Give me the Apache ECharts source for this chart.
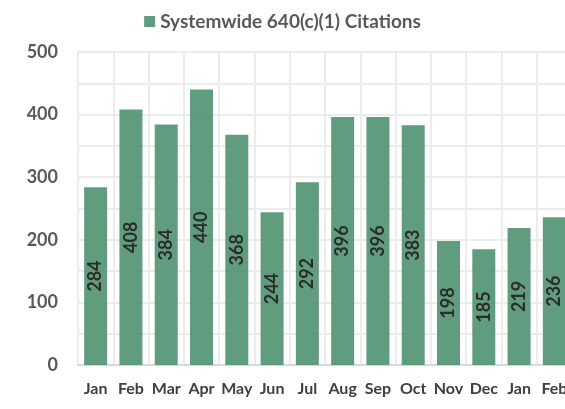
<!DOCTYPE html>
<html>
<head>
<meta charset="utf-8">
<script src="https://cdn.jsdelivr.net/npm/echarts@6/dist/echarts.min.js"></script>
<style>
  html, body { margin: 0; padding: 0; background: #fff; }
  #chart { width: 565px; height: 409px; }
</style>
</head>
<body>
<div id="chart"></div>
<script>
// 月份和数据
const months = ['Jan', 'Feb', 'Mar', 'Apr', 'May', 'Jun', 'Jul', 'Aug', 'Sep', 'Oct', 'Nov', 'Dec', 'Jan', 'Feb']
const citations = [284, 408, 384, 440, 368, 244, 292, 396, 396, 383, 198, 185, 219, 236]
const seriesName = 'Systemwide 640(c)(1) Citations'

const chart = echarts.init(document.getElementById('chart'))

const font = 'Lato, "Open Sans", sans-serif'

chart.setOption({
  animation: false,
  legend: {
    top: 7,
    left: 'center',
    icon: 'rect',
    itemWidth: 11,
    itemHeight: 11,
    itemGap: 5,
    textStyle: { fontFamily: font, fontSize: 19, fontWeight: 'bold', color: '#595959' },
    data: [seriesName]
  },
  // 右侧被裁切，宽度超出画布
  grid: { left: 78, top: 52, width: 494, height: 313, outerBoundsMode: 'none', containLabel: false },
  xAxis: {
    type: 'category',
    data: months,
    axisLine: { lineStyle: { color: '#d9d9d9', width: 2 } },
    axisTick: { show: false },
    splitLine: { show: true, interval: 0, lineStyle: { color: '#ececec', width: 2 } },
    axisLabel: { interval: 0, fontFamily: font, fontSize: 16, fontWeight: 'bold', color: '#404040', margin: 16 }
  },
  yAxis: {
    type: 'value',
    min: 0,
    max: 500,
    interval: 50,
    axisLine: { show: false },
    axisTick: { show: false },
    splitLine: { lineStyle: { color: '#ececec', width: 2 } },
    axisLabel: {
      fontFamily: font, fontSize: 18, fontWeight: 'bold', color: '#595959', margin: 20,
      formatter: v => (v % 100 === 0 ? v : '')
    }
  },
  series: [{
    name: seriesName,
    type: 'bar',
    data: citations,
    barWidth: 23,
    itemStyle: { color: 'rgba(72,142,108,0.87)' },
    label: {
      show: true,
      position: 'inside',
      rotate: 90,
      fontFamily: font,
      fontSize: 18,
      fontWeight: 'bold',
      color: '#2b2b2b'
    }
  }]
})
</script>
</body>
</html>
